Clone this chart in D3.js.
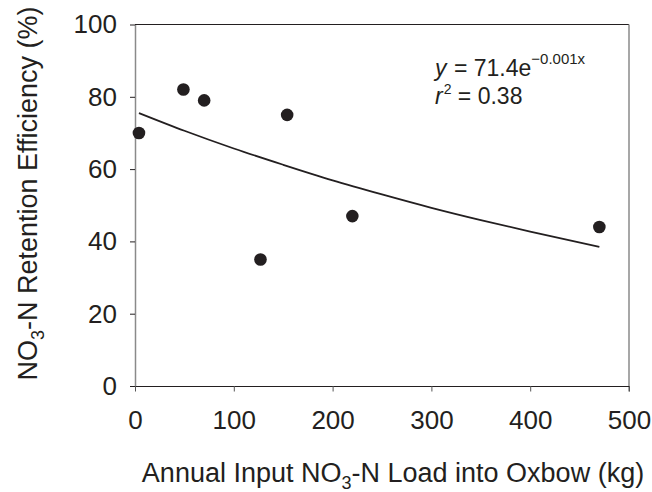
<!DOCTYPE html>
<html>
<head>
<meta charset="utf-8">
<script src="https://cdn.jsdelivr.net/npm/d3@7"></script>
<style>
  body { margin: 0; background: #fff; }
  text { font-family: "Liberation Sans", Arial, sans-serif; fill: #231f20; }
</style>
</head>
<body>
<div id="chart"></div>
<script>
// Data
const loadKg = [4, 49, 70, 154, 127, 220, 470];
const retention = [70, 82, 79, 75, 35, 47, 44];

// Exponential trend line, sampled from the drawn curve
const trendX = [4, 50, 100, 150, 200, 250, 300, 350, 400, 470];
const trendY = [75.5, 70.6, 65.7, 61.2, 56.9, 53.0, 49.3, 45.9, 42.7, 38.5];

const xTicks = [0, 100, 200, 300, 400, 500];
const yTicks = [0, 20, 40, 60, 80, 100];

const W = 652, H = 492;
const margin = { top: 24.5, right: 23, bottom: 106, left: 135 };
const width = W - margin.left - margin.right;
const height = H - margin.top - margin.bottom;

const svg = d3.select("#chart")
    .append("svg")
    .attr("width", W)
    .attr("height", H);

const g = svg.append("g")
    .attr("transform", `translate(${margin.left},${margin.top})`);

const x = d3.scaleLinear().domain([0, 500]).range([0, width]);
const y = d3.scaleLinear().domain([0, 100]).range([height, 0]);

// top and right frame lines
g.append("line")
    .attr("x1", 0).attr("x2", width)
    .attr("y1", 0).attr("y2", 0)
    .attr("stroke", "#231f20").attr("stroke-width", 1.2);

g.append("line")
    .attr("x1", width).attr("x2", width)
    .attr("y1", 0).attr("y2", height + 5.5)
    .attr("stroke", "#8a8a8a").attr("stroke-width", 1.5);

// y axis
const yAxis = g.append("g")
    .call(d3.axisLeft(y).tickValues(yTicks).tickSize(5).tickSizeOuter(0).tickPadding(13));
yAxis.select(".domain").attr("stroke", "#8a8a8a").attr("stroke-width", 1.5);
yAxis.selectAll(".tick line").attr("stroke", "#231f20");
yAxis.selectAll(".tick text")
    .style("font-size", "26px")
    .style("font-family", "Liberation Sans, Arial, sans-serif")
    .attr("fill", "#231f20");

// x axis
const xAxis = g.append("g")
    .attr("transform", `translate(0,${height})`)
    .call(d3.axisBottom(x).tickValues(xTicks).tickSize(5.5).tickSizeOuter(0).tickPadding(19));
xAxis.select(".domain").attr("stroke", "#231f20").attr("stroke-width", 1.2);
xAxis.selectAll(".tick line").attr("stroke", "#555");
xAxis.selectAll(".tick text")
    .style("font-size", "26px")
    .style("font-family", "Liberation Sans, Arial, sans-serif")
    .attr("fill", "#231f20");

// trend line
const line = d3.line()
    .x((d, i) => x(trendX[i]))
    .y(d => y(d))
    .curve(d3.curveMonotoneX);

g.append("path")
    .datum(trendY)
    .attr("d", line)
    .attr("fill", "none")
    .attr("stroke", "#231f20")
    .attr("stroke-width", 1.8);

// points
g.selectAll(".dot")
    .data(loadKg)
    .enter()
    .append("circle")
    .attr("class", "dot")
    .attr("cx", d => x(d))
    .attr("cy", (d, i) => y(retention[i]))
    .attr("r", 6.3)
    .attr("fill", "#231f20");

// equation
const eq1 = svg.append("text")
    .attr("x", 435).attr("y", 76)
    .style("font-size", "23px");
eq1.append("tspan").style("font-style", "italic").text("y");
eq1.append("tspan").attr("dx", 1).text(" = 71.4e");
eq1.append("tspan").style("font-size", "15px").attr("dy", -12.5).text("\u22120.001x");

const eq2 = svg.append("text")
    .attr("x", 435).attr("y", 103.5)
    .style("font-size", "23px");
eq2.append("tspan").style("font-style", "italic").text("r");
eq2.append("tspan").style("font-size", "14px").attr("dx", 1).attr("dy", -9.5).text("2");
eq2.append("tspan").attr("dy", 9.5).text(" = 0.38");

// axis titles
const xTitle = svg.append("text")
    .attr("x", 393).attr("y", 481.5)
    .attr("text-anchor", "middle")
    .style("font-size", "27px");
xTitle.append("tspan").text("Annual Input NO");
xTitle.append("tspan").style("font-size", "18px").attr("dy", 7).text("3");
xTitle.append("tspan").attr("dy", -7).text("-N Load into Oxbow (kg)");

const yTitle = svg.append("text")
    .attr("transform", "translate(37,193.5) rotate(-90)")
    .attr("text-anchor", "middle")
    .style("font-size", "27px");
yTitle.append("tspan").text("NO");
yTitle.append("tspan").style("font-size", "18px").attr("dy", 7).text("3");
yTitle.append("tspan").attr("dy", -7).text("-N Retention Efficiency (%)");
</script>
</body>
</html>
